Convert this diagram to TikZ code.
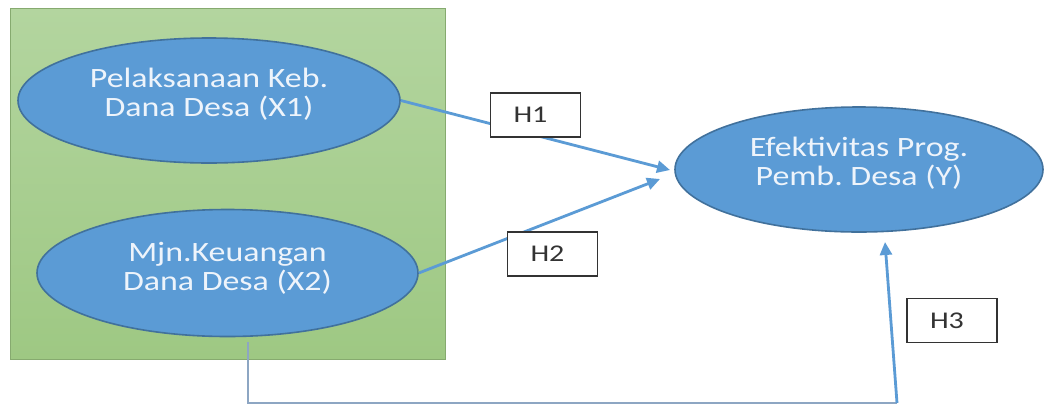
\documentclass[tikz,border=0pt]{standalone}
\usepackage{fontspec}
\setmainfont{Carlito}
\frenchspacing
\usetikzlibrary{shapes.geometric,arrows.meta}
\definecolor{greentop}{HTML}{B3D59F}
\definecolor{greenbot}{HTML}{9EC883}
\definecolor{ellfill}{HTML}{5B9BD5}
\definecolor{elldraw}{HTML}{41719C}
\definecolor{arrblue}{HTML}{5B9BD5}
\definecolor{linegray}{HTML}{8DA6C3}
\definecolor{txtwhite}{HTML}{EEF4FB}
\definecolor{boxdraw}{HTML}{333333}
\newcommand{\wtext}[2]{\scalebox{1.21}[1]{\begin{tabular}{@{}c@{}}#1\\[0pt]#2\end{tabular}}}
\newcommand{\htext}[1]{\scalebox{1.25}[1]{#1}}
\tikzset{
  ell/.style={ellipse, draw=elldraw, line width=1.6pt, fill=ellfill, inner sep=0pt},
  elltext/.style={font=\fontsize{28}{29}\selectfont, text=txtwhite, align=center, inner sep=0pt},
  hbox/.style={draw=boxdraw, line width=1.4pt, fill=white, minimum height=44pt,
    inner xsep=23pt, inner ysep=0pt, text width=44pt, align=left,
    font=\fontsize{24}{24}\selectfont, text=boxdraw},
  arr/.style={draw=arrblue, line width=2.8pt, -{Triangle[length=13pt,width=12pt]}},
  thinline/.style={draw=linegray, line width=2pt},
}
\begin{document}
\begin{tikzpicture}[x=1pt,y=-1pt]
\useasboundingbox (0,0) rectangle (1046,405);
\fill[white] (0,0) rectangle (1046,405);
% green panel
\shade[top color=greentop, bottom color=greenbot] (10,8) rectangle (445,359);
\draw[greenbot!85!black, line width=0.6pt] (10,8) rectangle (445,359);
% ellipses
\node[ell, minimum width=382pt, minimum height=125pt,
  label={[elltext, yshift=4pt]center:{\wtext{Pelaksanaan Keb.}{Dana Desa (X1)}}}] (x1) at (209,100.5) {};
\node[ell, minimum width=381pt, minimum height=127pt,
  label={[elltext, yshift=3pt]center:{\wtext{Mjn.Keuangan}{Dana Desa (X2)}}}] (x2) at (227.5,273) {};
\node[ell, minimum width=368pt, minimum height=125pt,
  label={[elltext, yshift=4pt]center:{\wtext{Efektivitas Prog.}{Pemb. Desa (Y)}}}] (y) at (859,169.5) {};
% free ends
\coordinate (t1) at (670,170);
\coordinate (t2) at (660,179);
\coordinate (c1) at (248,342);
\coordinate (c2) at (248,403);
\coordinate (c3) at (897,403);
\coordinate (t3) at (885,242);
% connectors
\draw[arr] (x1.east) -- (t1);
\draw[arr] (x2.east) -- (t2);
\draw[thinline] (c1) -- (c2) -- (c3);
\draw[arr] (c3) -- (t3);
% hypothesis boxes
\node[hbox] (h1) at (535.5,115) {\htext{H1}};
\node[hbox] (h2) at (552.5,254) {\htext{H2}};
\node[hbox] (h3) at (952,320.5) {\htext{H3}};
\end{tikzpicture}
\end{document}
